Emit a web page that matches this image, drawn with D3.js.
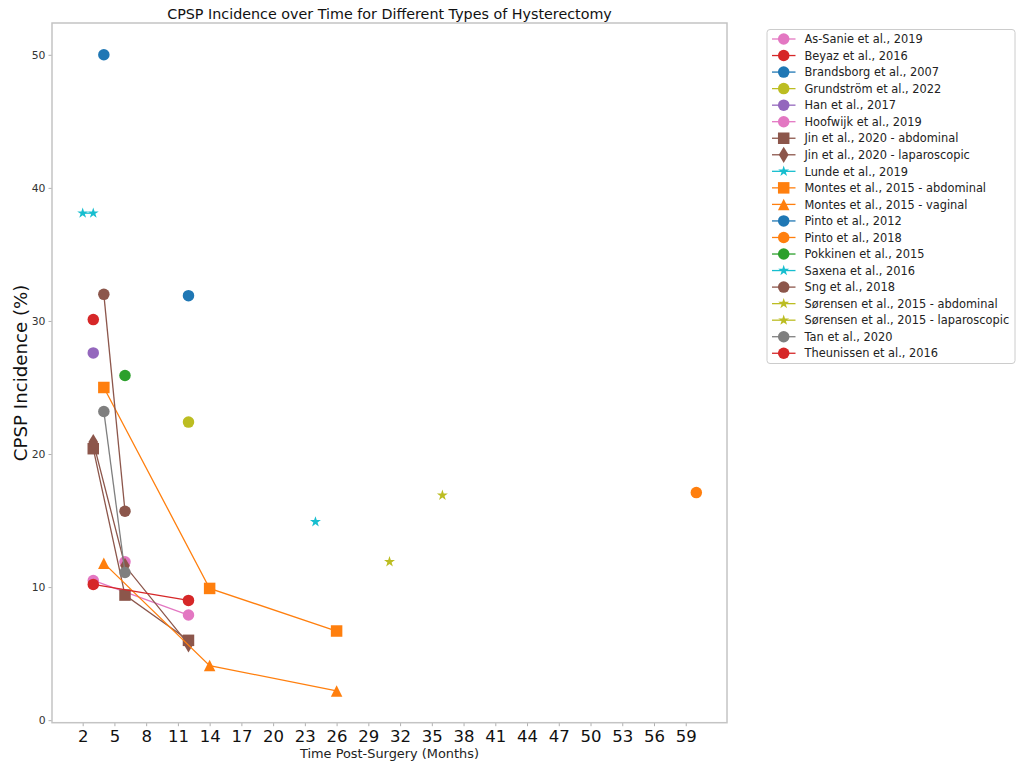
<!DOCTYPE html>
<html>
<head>
<meta charset="utf-8">
<script src="https://cdn.jsdelivr.net/npm/d3@7"></script>
<style>
  html, body { margin: 0; padding: 0; background: #fff; }
  svg { display: block; font-family: "DejaVu Sans", sans-serif; }
</style>
</head>
<body>
<svg id="chart" width="1016" height="764"></svg>
<script>
// Studies (legend order) and their follow-up readings
const studies = [
  "As-Sanie et al., 2019",
  "Beyaz et al., 2016",
  "Brandsborg et al., 2007",
  "Grundström et al., 2022",
  "Han et al., 2017",
  "Hoofwijk et al., 2019",
  "Jin et al., 2020 - abdominal",
  "Jin et al., 2020 - laparoscopic",
  "Lunde et al., 2019",
  "Montes et al., 2015 - abdominal",
  "Montes et al., 2015 - vaginal",
  "Pinto et al., 2012",
  "Pinto et al., 2018",
  "Pokkinen et al., 2015",
  "Saxena et al., 2016",
  "Sng et al., 2018",
  "Sørensen et al., 2015 - abdominal",
  "Sørensen et al., 2015 - laparoscopic",
  "Tan et al., 2020",
  "Theunissen et al., 2016"
];

// Months after surgery for each study
const months = [
  [3, 12],
  [3],
  [12],
  [12],
  [3],
  [6],
  [3, 6, 12],
  [3, 6, 12],
  [24],
  [4, 14, 26],
  [4, 14, 26],
  [4],
  [60],
  [6],
  [2, 3],
  [4, 6],
  [36],
  [31],
  [4, 6],
  [3, 12]
];

// CPSP incidence (%) for each study
const incidence = [
  [10.5, 7.9],
  [30.1],
  [31.9],
  [22.4],
  [27.6],
  [11.9],
  [20.4, 9.4, 6.0],
  [20.9, 11.6, 5.7],
  [14.9],
  [25.0, 9.9, 6.7],
  [11.8, 4.1, 2.2],
  [50.0],
  [17.1],
  [25.9],
  [38.1, 38.1],
  [32.0, 15.7],
  [16.9],
  [11.9],
  [23.2, 11.1],
  [10.2, 9.0]
];

const xTicks = [2, 5, 8, 11, 14, 17, 20, 23, 26, 29, 32, 35, 38, 41, 44, 47, 50, 53, 56, 59];
const yTicks = [0, 10, 20, 30, 40, 50];

// Styling per study: colour and marker shape
const seriesColor = [
  "#e377c2", "#d62728", "#1f77b4", "#bcbd22", "#9467bd", "#e377c2",
  "#8c564b", "#8c564b", "#17becf", "#ff7f0e", "#ff7f0e", "#1f77b4",
  "#ff7f0e", "#2ca02c", "#17becf", "#8c564b", "#bcbd22", "#bcbd22",
  "#7f7f7f", "#d62728"
];
const seriesShape = [
  "circle", "circle", "circle", "circle", "circle", "circle",
  "square", "thin_diamond", "star", "square", "triangle", "circle",
  "circle", "circle", "star", "circle", "star", "star",
  "circle", "circle"
];

// Marker shapes; "size" is the marker's full width in px
const shapes = {
  circle: { draw(ctx, s) { const r = s / 2; ctx.moveTo(r, 0); ctx.arc(0, 0, r, 0, 2 * Math.PI); } },
  square: { draw(ctx, s) { const h = s / 2; ctx.rect(-h, -h, s, s); } },
  triangle: { draw(ctx, s) { const h = s / 2; ctx.moveTo(0, -h); ctx.lineTo(h, h); ctx.lineTo(-h, h); ctx.closePath(); } },
  thin_diamond: { draw(ctx, s) {
    const hh = s * Math.SQRT1_2, hw = 0.6 * s * Math.SQRT1_2;
    ctx.moveTo(0, -hh); ctx.lineTo(hw, 0); ctx.lineTo(0, hh); ctx.lineTo(-hw, 0); ctx.closePath(); } },
  star: { draw(ctx, s) {
    const R = s / 2, r = R * 0.381966;
    for (let i = 0; i < 10; i++) {
      const a = -Math.PI / 2 + i * Math.PI / 5, rr = i % 2 ? r : R;
      const px = rr * Math.cos(a), py = rr * Math.sin(a);
      if (i === 0) ctx.moveTo(px, py); else ctx.lineTo(px, py);
    }
    ctx.closePath(); } }
};

const MS = 11.5;
const svg = d3.select("#chart");
const plot = { left: 52, right: 727, top: 23, bottom: 722.7 };

const x = d3.scaleLinear().domain([-0.9, 62.9]).range([plot.left, plot.right]);
const y = d3.scaleLinear().domain([-0.19, 52.39]).range([plot.bottom, plot.top]);

// Axes
const xAxis = svg.append("g")
  .attr("transform", `translate(0,${plot.bottom})`)
  .call(d3.axisBottom(x).tickValues(xTicks).tickSize(3.5).tickPadding(4).tickFormat(d3.format("d")));
xAxis.select(".domain").remove();
xAxis.selectAll(".tick line").attr("stroke", "#b0b0b0");
xAxis.selectAll(".tick text").attr("font-size", "16.5px").attr("fill", "#111")
  .attr("font-family", "DejaVu Sans");

const yAxis = svg.append("g")
  .attr("transform", `translate(${plot.left},0)`)
  .call(d3.axisLeft(y).tickValues(yTicks).tickSize(3.5).tickPadding(3).tickFormat(d3.format("d")));
yAxis.select(".domain").remove();
yAxis.selectAll(".tick line").attr("stroke", "#b0b0b0");
yAxis.selectAll(".tick text").attr("font-size", "10.8px").attr("fill", "#333")
  .attr("font-family", "DejaVu Sans");

// Frame
svg.append("rect")
  .attr("x", plot.left).attr("y", plot.top)
  .attr("width", plot.right - plot.left).attr("height", plot.bottom - plot.top)
  .attr("fill", "none").attr("stroke", "#c4c4c4").attr("stroke-width", 1.5);

// Series: connecting lines then markers
const line = d3.line().x(d => x(d[0])).y(d => y(d[1]));
studies.forEach((name, i) => {
  const pts = months[i].map((m, j) => [m, incidence[i][j]]);
  const g = svg.append("g");
  if (pts.length > 1) {
    g.append("path").attr("d", line(pts))
      .attr("fill", "none").attr("stroke", seriesColor[i]).attr("stroke-width", 1.3);
  }
  const sym = d3.symbol().type(shapes[seriesShape[i]]).size(MS);
  g.selectAll("path.pt").data(pts).join("path").attr("class", "pt")
    .attr("d", sym)
    .attr("transform", d => `translate(${x(d[0])},${y(d[1])})`)
    .attr("fill", seriesColor[i]);
});

// Titles
svg.append("text").attr("x", (plot.left + plot.right) / 2).attr("y", 19)
  .attr("text-anchor", "middle").attr("font-size", "14.3px").attr("fill", "#111")
  .text("CPSP Incidence over Time for Different Types of Hysterectomy");
svg.append("text").attr("x", (plot.left + plot.right) / 2).attr("y", 758)
  .attr("text-anchor", "middle").attr("font-size", "12.9px").attr("fill", "#222")
  .text("Time Post-Surgery (Months)");
svg.append("text")
  .attr("transform", `translate(26.5,${(plot.top + plot.bottom) / 2}) rotate(-90)`)
  .attr("text-anchor", "middle").attr("font-size", "18.2px").attr("fill", "#111")
  .text("CPSP Incidence (%)");

// Legend
const legend = svg.append("g");
legend.append("rect").attr("x", 767).attr("y", 29.5).attr("width", 248).attr("height", 334)
  .attr("rx", 3).attr("fill", "#fff").attr("stroke", "#cccccc").attr("stroke-width", 1);
studies.forEach((name, i) => {
  const cy = 39 + i * 16.54;
  const row = legend.append("g");
  row.append("line").attr("x1", 772).attr("x2", 795.5).attr("y1", cy).attr("y2", cy)
    .attr("stroke", seriesColor[i]).attr("stroke-width", 1.3);
  row.append("path").attr("d", d3.symbol().type(shapes[seriesShape[i]]).size(MS)())
    .attr("transform", `translate(783.7,${cy})`).attr("fill", seriesColor[i]);
  row.append("text").attr("x", 804.5).attr("y", cy + 4.2)
    .attr("font-size", "11.4px").attr("fill", "#222").text(name);
});
</script>
</body>
</html>
